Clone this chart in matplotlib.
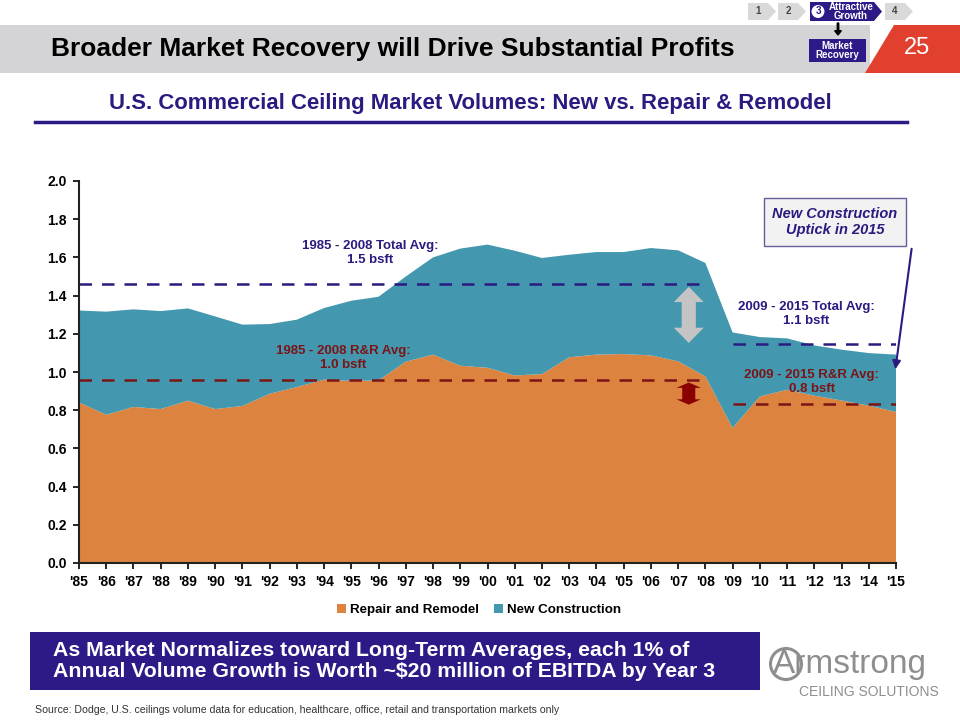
import numpy as np
import matplotlib.pyplot as plt
from matplotlib.patches import Rectangle, Polygon, FancyArrow, Ellipse

plt.rcParams['font.family'] = ['Liberation Sans', 'DejaVu Sans']

# data (billion sq ft)
years = list(range(1985, 2016))
repair_remodel = [0.841, 0.776, 0.817, 0.806, 0.850, 0.806, 0.822, 0.886, 0.921, 0.960,
                  0.953, 0.956, 1.054, 1.091, 1.033, 1.022, 0.982, 0.989, 1.077, 1.091,
                  1.094, 1.087, 1.056, 0.977, 0.707, 0.872, 0.907, 0.876, 0.851, 0.824,
                  0.791]
new_construction = [0.481, 0.540, 0.511, 0.513, 0.483, 0.485, 0.426, 0.365, 0.353, 0.375,
                    0.420, 0.438, 0.446, 0.509, 0.613, 0.645, 0.653, 0.608, 0.537, 0.537,
                    0.534, 0.562, 0.581, 0.594, 0.500, 0.311, 0.269, 0.263, 0.266, 0.275,
                    0.300]
tick_labels = ["'%02d" % (y % 100) for y in years]

# averages
pre_total_avg, pre_rr_avg = 1.462, 0.956
post_total_avg, post_rr_avg = 1.146, 0.832

orange = '#DC843F'
teal = '#4397AE'
navy = '#2B1A80'
darkred = '#7B1416'
purple = '#2E1A87'

fig = plt.figure(figsize=(9.6, 7.2), dpi=100)
W, H = 960, 720

def fx(px):
    return px / W

def fy(py):
    return 1 - py / H

# header band
fig.patches.append(Rectangle((0, fy(73)), fx(870), 48 / H, transform=fig.transFigure,
                             facecolor='#D4D4D6', edgecolor='none'))
fig.patches.append(Polygon([(fx(865), fy(73)), (fx(894), fy(25)), (1, fy(25)), (1, fy(73))],
                           closed=True, transform=fig.transFigure,
                           facecolor='#E2402F', edgecolor='none'))
fig.text(fx(51), fy(49), 'Broader Market Recovery will Drive Substantial Profits',
         fontsize=19, fontweight='bold', va='center', ha='left')
fig.text(fx(917), fy(48), '25', fontsize=17, color='white', va='center', ha='center')

# nav chevrons
def chevron(x0, x1, y0, y1, col):
    tip = 8
    pts = [(x0, y0), (x1, y0), (x1 + tip, (y0 + y1) / 2), (x1, y1), (x0, y1)]
    fig.patches.append(Polygon([(fx(a), fy(b)) for a, b in pts], closed=True,
                               transform=fig.transFigure, facecolor=col, edgecolor='none'))

for x0, lab in [(748, '1'), (778, '2'), (885, '4')]:
    chevron(x0, x0 + 20, 3, 20, '#D9D9D9')
    fig.text(fx(x0 + 10), fy(11.5), lab, fontsize=7, ha='center', va='center',
             color='#444444', fontweight='bold')
chevron(810, 874, 2, 21, purple)
fig.text(fx(818), fy(11.5), '3', fontsize=7, ha='center', va='center',
         color=purple, fontweight='bold',
         bbox=dict(boxstyle='circle,pad=0.15', fc='white', ec='none'))
fig.text(fx(851), fy(11.5), 'Attractive\nGrowth', fontsize=7, ha='center', va='center',
         color='white', fontweight='bold', linespacing=0.95)
fig.patches.append(Rectangle((fx(809), fy(62)), 57 / W, 23 / H, transform=fig.transFigure,
                             facecolor=purple, edgecolor='none'))
fig.text(fx(837.5), fy(50.5), 'Market\nRecovery', fontsize=7, ha='center', va='center',
         color='white', fontweight='bold', linespacing=0.95)
fig.patches.append(FancyArrow(fx(838), fy(23), 0, -12 / H, width=0.0015, head_width=0.007,
                              head_length=0.006, transform=fig.transFigure,
                              color='black', length_includes_head=True))

# subtitle
fig.text(fx(470), fy(104), 'U.S. Commercial Ceiling Market Volumes: New vs. Repair & Remodel',
         fontsize=15.9, fontweight='bold', color=navy, ha='center', va='center')
fig.add_artist(plt.Line2D([fx(35), fx(907)], [fy(122), fy(122)], color=purple, lw=2.5,
                          transform=fig.transFigure))

# chart
ax = fig.add_axes([fx(79), fy(563), 817 / W, 382 / H])
ax.stackplot(years, repair_remodel, new_construction, colors=[orange, teal],
             labels=['Repair and Remodel', 'New Construction'], linewidth=0)
ax.set_xlim(1985, 2015)
ax.set_ylim(0, 2.0)
ax.set_yticks(np.arange(0, 2.01, 0.2))
ax.set_yticklabels(['%.1f' % v for v in np.arange(0, 2.01, 0.2)])
ax.set_xticks(years)
ax.set_xticklabels(tick_labels)
for s in ['top', 'right']:
    ax.spines[s].set_visible(False)
for s in ['left', 'bottom']:
    ax.spines[s].set_linewidth(1.5)
    ax.spines[s].set_color('#222222')
ax.tick_params(labelsize=10, length=4, width=1.2, pad=5)
for t in ax.get_xticklabels() + ax.get_yticklabels():
    t.set_fontweight('bold')

ax.hlines(pre_total_avg, 1985, 2008, colors=navy, linestyles=(0, (5, 4)), lw=1.8)
ax.hlines(pre_rr_avg, 1985, 2008, colors=darkred, linestyles=(0, (5, 4)), lw=1.8)
ax.hlines(post_total_avg, 2009, 2015, colors=navy, linestyles=(0, (5, 4)), lw=1.8)
ax.hlines(post_rr_avg, 2009, 2015, colors=darkred, linestyles=(0, (5, 4)), lw=1.8)

ax.text(1995.7, 1.625, '1985 - 2008 Total Avg:\n1.5 bsft', color=navy, fontsize=9.5,
        fontweight='bold', ha='center', va='center')
ax.text(1994.7, 1.075, '1985 - 2008 R&R Avg:\n1.0 bsft', color=darkred, fontsize=9.5,
        fontweight='bold', ha='center', va='center')
ax.text(2011.7, 1.305, '2009 - 2015 Total Avg:\n1.1 bsft', color=navy, fontsize=9.5,
        fontweight='bold', ha='center', va='center')
ax.text(2011.9, 0.949, '2009 - 2015 R&R Avg:\n0.8 bsft', color=darkred, fontsize=9.5,
        fontweight='bold', ha='center', va='center')

# double arrows
def double_arrow(xc, y0, y1, col, hw=0.6, sw=0.25, hl=0.07):
    pts = [(xc, y1), (xc + hw, y1 - hl), (xc + sw, y1 - hl), (xc + sw, y0 + hl),
           (xc + hw, y0 + hl), (xc, y0), (xc - hw, y0 + hl), (xc - sw, y0 + hl),
           (xc - sw, y1 - hl), (xc - hw, y1 - hl)]
    ax.add_patch(Polygon(pts, closed=True, facecolor=col, edgecolor='none'))

double_arrow(2007.39, 1.152, 1.446, '#C4C4C4', hw=0.55, sw=0.26, hl=0.08)
double_arrow(2007.39, 0.829, 0.945, '#8B0000', hw=0.45, sw=0.24, hl=0.028)

# callout box
fig.text(fx(835), fy(222), 'New Construction\nUptick in 2015', fontsize=10.5,
         fontweight='bold', style='italic', color=navy, ha='center', va='center',
         bbox=dict(boxstyle='square,pad=0.6', fc='#F2F2F2', ec='#6A5A9A', lw=1))
fig.add_artist(plt.Annotation('', xy=(fx(895), fy(372)), xytext=(fx(912), fy(246)),
                              xycoords='figure fraction', textcoords='figure fraction',
                              arrowprops=dict(arrowstyle='-|>', color=navy, lw=1.5,
                                              mutation_scale=12)))

leg = ax.legend(loc='upper center', bbox_to_anchor=(0.49, -0.075), ncol=2, frameon=False,
                fontsize=9.6, handlelength=0.7, handleheight=0.7, handletextpad=0.3,
                columnspacing=1.1)
for t in leg.get_texts():
    t.set_fontweight('bold')

# bottom banner
fig.patches.append(Rectangle((fx(30), fy(690)), 730 / W, 58 / H, transform=fig.transFigure,
                             facecolor=purple, edgecolor='none'))
fig.text(fx(53), fy(661), 'As Market Normalizes toward Long-Term Averages, each 1% of\n'
         'Annual Volume Growth is Worth ~$20 million of EBITDA by Year 3',
         fontsize=15.3, fontweight='bold', color='white', ha='left', va='center',
         linespacing=1.1)

# logo
fig.text(fx(773), fy(665), 'Armstrong', fontsize=24, color='#8E8E8E',
         ha='left', va='center')
fig.patches.append(Ellipse((fx(786), fy(664)), 31 / W, 31 / H, transform=fig.transFigure,
                           facecolor='none', edgecolor='#8E8E8E', lw=2.2))
fig.text(fx(869), fy(692), 'CEILING SOLUTIONS', fontsize=10, color='#8E8E8E',
         ha='center', va='center')

fig.text(fx(35), fy(710), 'Source: Dodge, U.S. ceilings volume data for education, healthcare, '
         'office, retail and transportation markets only', fontsize=7.6, color='#333333',
         ha='left', va='center')

fig.savefig('out.png', dpi=100)
